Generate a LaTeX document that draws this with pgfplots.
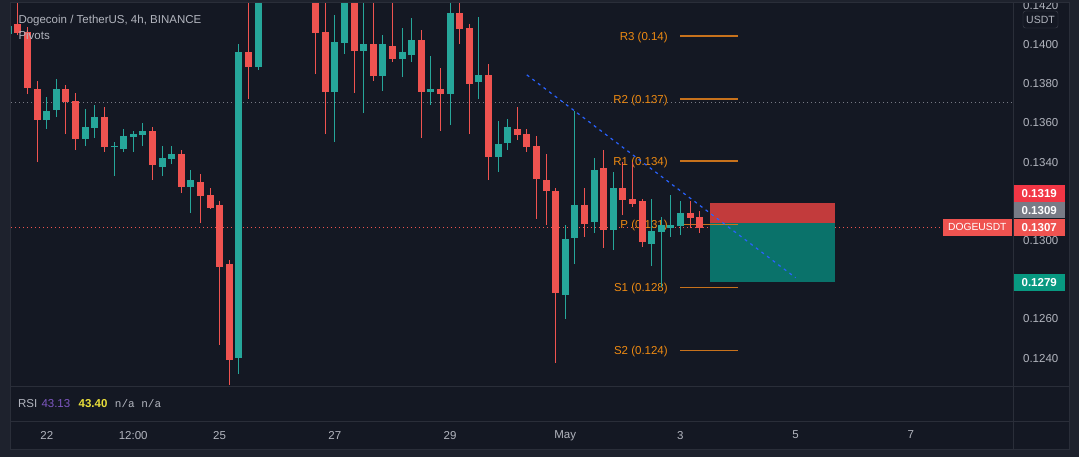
\documentclass[border=0pt]{standalone}
\usepackage{fontspec}
\setmainfont{Liberation Sans}
\newfontfamily\monofont{Liberation Mono}
\usepackage{pgfplots}
\usepackage{pgfplotstable}
\pgfplotsset{compat=1.18}

\definecolor{bgout}{HTML}{1E222D}
\definecolor{bgin}{HTML}{141823}
\definecolor{sep}{HTML}{2A2E39}
\definecolor{txt}{HTML}{B2B5BE}
\definecolor{upc}{HTML}{26A69A}
\definecolor{dnc}{HTML}{EF5350}
\definecolor{piv}{HTML}{EE8A12}
\definecolor{pivline}{HTML}{C8721C}
\definecolor{trend}{HTML}{2962FF}
\definecolor{stopc}{HTML}{C23B3C}
\definecolor{tgtc}{HTML}{0A726A}
\definecolor{labred}{HTML}{F23645}
\definecolor{labgray}{HTML}{787B86}
\definecolor{labteal}{HTML}{089981}
\definecolor{rsipurple}{HTML}{7E57C2}
\definecolor{rsiyellow}{HTML}{E9DE3A}
\definecolor{usdtbox}{HTML}{434651}

\newcommand\fs{\fontsize{11.5}{13}\selectfont}

% 4h bars, k = bars since 22 Apr 00:00
\pgfplotstableread{
k o h l c
-4 0.14054 0.14105 0.14043 0.14094
0 0.13615 0.13732 0.13569 0.13661
1 0.13666 0.13824 0.13630 0.13773
4 0.13518 0.13671 0.13482 0.13579
5 0.13574 0.13691 0.13523 0.13630
7 0.13477 0.13503 0.13329 0.13482
8 0.13467 0.13569 0.13452 0.13533
9 0.13528 0.13559 0.13452 0.13543
10 0.13538 0.13600 0.13482 0.13559
12 0.13375 0.13482 0.13329 0.13421
13 0.13416 0.13482 0.13390 0.13441
15 0.13273 0.13360 0.13140 0.13309
20 0.12400 0.14003 0.12319 0.13962
22 0.13885 0.14450 0.13870 0.14400
30 0.13758 0.14150 0.13503 0.14013
31 0.14008 0.14400 0.13952 0.14350
33 0.13967 0.14250 0.13650 0.14003
35 0.13839 0.14048 0.13763 0.14003
37 0.13926 0.14084 0.13834 0.13962
38 0.13946 0.14135 0.13911 0.14023
40 0.13758 0.13941 0.13691 0.13773
42 0.13747 0.14230 0.13589 0.14161
45 0.13809 0.14140 0.13722 0.13844
47 0.13426 0.13610 0.13350 0.13492
48 0.13497 0.13620 0.13462 0.13579
54 0.12722 0.13079 0.12600 0.13008
55 0.13013 0.13661 0.12880 0.13181
57 0.13094 0.13421 0.13038 0.13360
59 0.13054 0.13350 0.12952 0.13268
63 0.12982 0.13212 0.12870 0.13048
64 0.13043 0.13120 0.12763 0.13079
65 0.13064 0.13232 0.13018 0.13079
66 0.13074 0.13202 0.13028 0.13140
}\upbars

\pgfplotstableread{
k o h l c
-3 0.14105 0.14280 0.14048 0.14059
-2 0.14064 0.14089 0.13747 0.13778
-1 0.13773 0.13814 0.13400 0.13615
2 0.13773 0.13793 0.13543 0.13707
3 0.13712 0.13753 0.13462 0.13518
6 0.13630 0.13681 0.13452 0.13477
11 0.13559 0.13579 0.13309 0.13385
14 0.13441 0.13462 0.13242 0.13273
16 0.13298 0.13339 0.13089 0.13227
17 0.13232 0.13268 0.13161 0.13166
18 0.13181 0.13202 0.12467 0.12865
19 0.12880 0.12901 0.12262 0.12390
21 0.13962 0.14250 0.13722 0.13885
28 0.14350 0.14400 0.13849 0.14059
29 0.14064 0.14240 0.13543 0.13758
32 0.14350 0.14400 0.13753 0.13967
34 0.14003 0.14250 0.13814 0.13839
36 0.13992 0.14250 0.13911 0.13926
39 0.14023 0.14074 0.13523 0.13758
41 0.13773 0.13880 0.13559 0.13747
43 0.14161 0.14230 0.14003 0.14079
44 0.14084 0.14105 0.13543 0.13798
46 0.13844 0.13900 0.13309 0.13426
49 0.13569 0.13681 0.13513 0.13538
50 0.13543 0.13569 0.13452 0.13477
51 0.13482 0.13533 0.13110 0.13314
52 0.13309 0.13441 0.13079 0.13253
53 0.13253 0.13268 0.12375 0.12732
56 0.13181 0.13268 0.13018 0.13084
58 0.13370 0.13462 0.12962 0.13054
60 0.13268 0.13400 0.13130 0.13207
61 0.13212 0.13400 0.13171 0.13186
62 0.13202 0.13212 0.12967 0.12992
67 0.13140 0.13202 0.13064 0.13115
68 0.13120 0.13150 0.13038 0.13064
}\downbars

\begin{document}
\begin{tikzpicture}[x=1pt,y=-1pt]
\useasboundingbox (0,0) rectangle (1079,457);
\fill[bgin] (0,0) rectangle (1079,457);

\begin{axis}[
    at={(10pt,-3pt)}, anchor=north west,
    width=1003.7pt, height=383pt, scale only axis,
    xmin=-3.833, xmax=100.72, ymin=0.122576, ymax=0.142117,
    axis line style={draw=none}, tick style={draw=none},
    xtick={0,9,18,30,42,54,66,78,90},
    xticklabels={22,12:00,25,27,29,May,3,5,7},
    ytick={0.124,0.126,0.130,0.134,0.136,0.138,0.140,0.142},
    yticklabel pos=right,
    scaled y ticks=false,
    tick label style={font=\fs, text=txt},
    xticklabel style={anchor=center, yshift=-49pt, text depth=0pt},
    yticklabel style={anchor=center, xshift=27pt,
        /pgf/number format/fixed, /pgf/number format/fixed zerofill,
        /pgf/number format/precision=4},
    /pgf/number format/assume math mode=true,
]
% horizontal dotted lines
\addplot[labgray, line width=0.8pt, dash pattern=on 1pt off 3pt] coordinates {(-10,0.13705) (110,0.13705)};
\addplot[dnc, line width=0.8pt, dash pattern=on 1pt off 3pt] coordinates {(-10,0.13067) (110,0.13067)};

% pivot labels
\node[anchor=base east, inner sep=0pt, font=\fs, text=piv, yshift=-4.1pt] at (axis cs:64.7,0.14043) {R3 (0.14)};
\node[anchor=base east, inner sep=0pt, font=\fs, text=piv, yshift=-4.1pt] at (axis cs:64.7,0.13722) {R2 (0.137)};
\node[anchor=base east, inner sep=0pt, font=\fs, text=piv, yshift=-4.1pt] at (axis cs:64.7,0.13406) {R1 (0.134)};
\node[anchor=base east, inner sep=0pt, font=\fs, text=piv, yshift=-4.1pt] at (axis cs:64.7,0.13081) {P (0.131)};
\node[anchor=base east, inner sep=0pt, font=\fs, text=piv, yshift=-4.1pt] at (axis cs:64.7,0.12759) {S1 (0.128)};
\node[anchor=base east, inner sep=0pt, font=\fs, text=piv, yshift=-4.1pt] at (axis cs:64.7,0.12440) {S2 (0.124)};

% position boxes
\addplot[fill=stopc, draw=none] coordinates {(69.1,0.1319) (82.1,0.1319) (82.1,0.13088) (69.1,0.13088)} -- cycle;
\addplot[fill=tgtc, draw=none] coordinates {(69.1,0.13088) (82.1,0.13088) (82.1,0.1279) (69.1,0.1279)} -- cycle;

% pivot lines
\addplot[pivline, line width=1.2pt] coordinates {(66,0.14043) (72,0.14043)};
\addplot[pivline, line width=1.2pt] coordinates {(66,0.13722) (72,0.13722)};
\addplot[pivline, line width=1.2pt] coordinates {(66,0.13406) (72,0.13406)};
\addplot[pivline, line width=1.2pt] coordinates {(66,0.13081) (72,0.13081)};
\addplot[pivline, line width=1.2pt] coordinates {(66,0.12759) (72,0.12759)};
\addplot[pivline, line width=1.2pt] coordinates {(66,0.12440) (72,0.12440)};

% candles: wicks and bodies
\addplot[draw=none, mark=none, error bars/.cd, y dir=plus, y explicit, error mark=none,
    error bar style={draw=upc, line width=1pt}]
    table[x=k, y=l, y error plus expr=\thisrow{h}-\thisrow{l}] {\upbars};
\addplot[draw=none, mark=none, error bars/.cd, y dir=plus, y explicit, error mark=none,
    error bar style={draw=upc, line width=7pt}]
    table[x=k, y=o, y error plus expr=\thisrow{c}-\thisrow{o}] {\upbars};
\addplot[draw=none, mark=none, error bars/.cd, y dir=plus, y explicit, error mark=none,
    error bar style={draw=dnc, line width=1pt}]
    table[x=k, y=l, y error plus expr=\thisrow{h}-\thisrow{l}] {\downbars};
\addplot[draw=none, mark=none, error bars/.cd, y dir=plus, y explicit, error mark=none,
    error bar style={draw=dnc, line width=7pt}]
    table[x=k, y=c, y error plus expr=\thisrow{o}-\thisrow{c}] {\downbars};

% trend line
\addplot[trend, line width=1.2pt, dash pattern=on 3pt off 4pt] coordinates {(50,0.13845) (78,0.12810)};
\end{axis}

% titles
\node[anchor=base west, inner sep=0pt, font=\fs, text=txt] at (18.3,23.2) {Dogecoin / TetherUS, 4h, BINANCE};
\node[anchor=base west, inner sep=0pt, font=\fs, text=txt] at (18.3,40) {Pivots};

% RSI pane
\node[anchor=base west, inner sep=0pt, font=\fs, text=txt] at (17.9,407.1) {RSI};
\node[anchor=base west, inner sep=0pt, font=\fs, text=rsipurple] at (41.3,407.1) {43.13};
\node[anchor=base west, inner sep=0pt, font=\fs\bfseries, text=rsiyellow] at (78.5,407.1) {43.40};
\node[anchor=base west, inner sep=0pt, font=\monofont\fontsize{11}{13}\selectfont, text=txt] at (114.7,407.1) {n/a n/a};

% price labels on the right
\fill[labred] (1013.7,185) rectangle (1064.7,201.7);
\node[inner sep=0pt, font=\fs\bfseries, text=white] at (1039.2,193.35) {0.1319};
\fill[labgray] (1013.7,202) rectangle (1064.7,218.3);
\node[inner sep=0pt, font=\fs\bfseries, text=white] at (1039.2,210.15) {0.1309};
\fill[dnc] (1013.7,219) rectangle (1064.7,235.7);
\node[inner sep=0pt, font=\fs\bfseries, text=white] at (1039.2,227.35) {0.1307};
\fill[dnc] (943,219) rectangle (1011.7,235.7);
\node[inner sep=0pt, font=\fontsize{10.3}{12}\selectfont, text=white] at (977.3,227.35) {DOGEUSDT};
\fill[labteal] (1013.7,274) rectangle (1064.7,290.7);
\node[inner sep=0pt, font=\fs\bfseries, text=white] at (1039.2,282.35) {0.1279};

% USDT box
\draw[usdtbox, fill=bgin, rounded corners=2.5pt] (1023,11) rectangle (1058,28);
\node[inner sep=0pt, font=\fontsize{10.5}{12}\selectfont, text=txt] at (1040.5,19.5) {USDT};

% pane separators and frame
\draw[sep, line width=1pt] (10,386) -- (1069,386);
\draw[sep, line width=1pt] (10,421) -- (1069,421);
\draw[sep, line width=1pt] (1013.7,3) -- (1013.7,449);
\fill[bgout, even odd rule] (0,0) rectangle (1079,457) (10,3) rectangle (1069,449);
\draw[sep, line width=1pt] (10,3) rectangle (1069,449);
\end{tikzpicture}
\end{document}
